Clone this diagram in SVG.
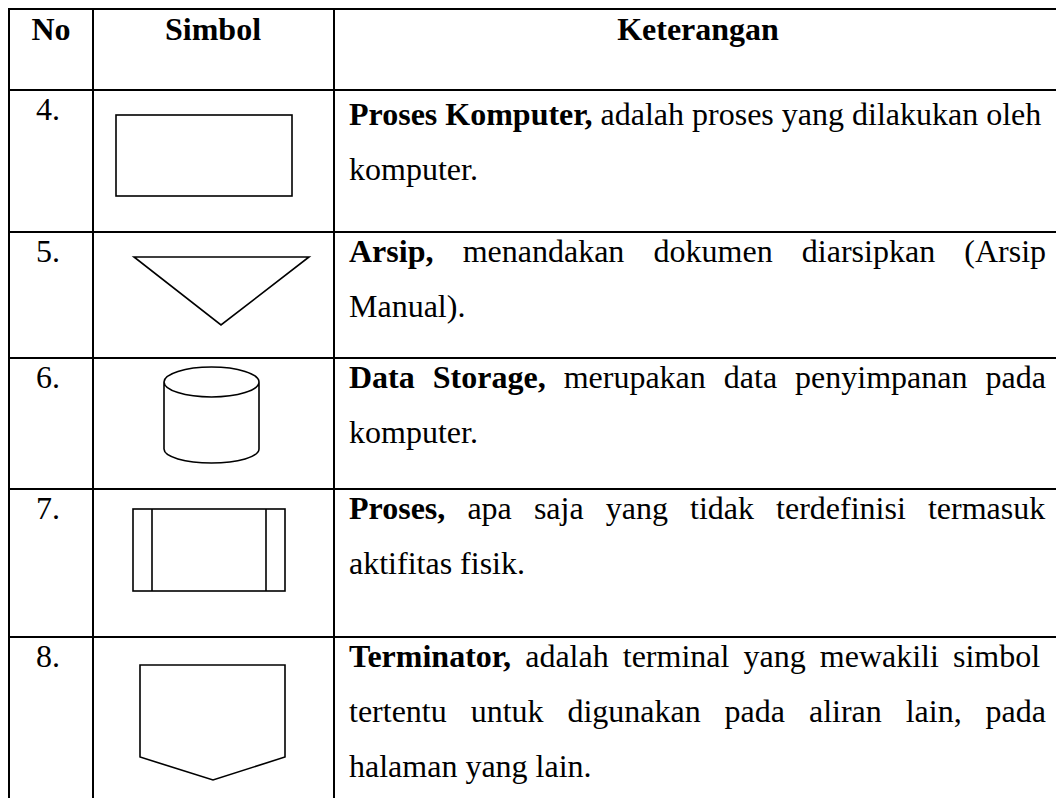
<svg xmlns="http://www.w3.org/2000/svg" width="1056" height="798" viewBox="0 0 1056 798">
<style>
text{font-family:"Liberation Serif","Times New Roman",serif;font-size:32px;fill:#000}
.b{font-weight:bold}
.c{text-anchor:middle}
.grid{stroke:#000;stroke-width:2;fill:none}
.shape{stroke:#000;stroke-width:1.6;fill:none}
</style>
<rect width="1056" height="798" fill="#fff"/>
<g id="table" class="grid">
<line x1="9" y1="9" x2="1056" y2="9"/>
<line x1="9" y1="90" x2="1056" y2="90"/>
<line x1="9" y1="232" x2="1056" y2="232"/>
<line x1="9" y1="358" x2="1056" y2="358"/>
<line x1="9" y1="489" x2="1056" y2="489"/>
<line x1="9" y1="637" x2="1056" y2="637"/>
<line x1="9" y1="8" x2="9" y2="798"/>
<line x1="93" y1="8" x2="93" y2="798"/>
<line x1="334" y1="8" x2="334" y2="798"/>
</g>
<g id="header">
<text class="b c" x="51" y="40">No</text>
<text class="b c" x="213" y="40">Simbol</text>
<text class="b c" x="698" y="40">Keterangan</text>
</g>
<g id="row4">
<text class="c" x="48" y="120">4.</text>
<rect class="shape" x="116" y="115" width="176" height="81"/>
<text x="349" y="125"><tspan class="b">Proses Komputer,</tspan> adalah proses yang dilakukan oleh</text>
<text x="349" y="180">komputer.</text>
</g>
<g id="row5">
<text class="c" x="48" y="262">5.</text>
<polygon class="shape" points="134,257 309,257 221,325"/>
<text x="349" y="262" word-spacing="21.2"><tspan class="b">Arsip,</tspan> menandakan dokumen diarsipkan (Arsip</text>
<text x="349" y="317">Manual).</text>
</g>
<g id="row6">
<text class="c" x="48" y="388">6.</text>
<path class="shape" d="M164,382 A47.5,15 0 0 1 259,382 A47.5,15 0 0 1 164,382 Z M164,382 L164,449 A47.5,14 0 0 0 259,449 L259,382"/>
<text x="349" y="388" word-spacing="10"><tspan class="b">Data Storage,</tspan> merupakan data penyimpanan pada</text>
<text x="349" y="443">komputer.</text>
</g>
<g id="row7">
<text class="c" x="48" y="519">7.</text>
<rect class="shape" x="133" y="509" width="152" height="82"/>
<line class="shape" x1="152" y1="509" x2="152" y2="591"/>
<line class="shape" x1="266" y1="509" x2="266" y2="591"/>
<text x="349" y="519" word-spacing="14.1"><tspan class="b">Proses,</tspan> apa saja yang tidak terdefinisi termasuk</text>
<text x="349" y="574">aktifitas fisik.</text>
</g>
<g id="row8">
<text class="c" x="48" y="667">8.</text>
<polygon class="shape" points="140,665 285,665 285,757 213,780 140,757"/>
<text x="349" y="667" word-spacing="6.1"><tspan class="b">Terminator,</tspan> adalah terminal yang mewakili simbol</text>
<text x="349" y="722" word-spacing="15.9">tertentu untuk digunakan pada aliran lain, pada</text>
<text x="349" y="777">halaman yang lain.</text>
</g>
</svg>
